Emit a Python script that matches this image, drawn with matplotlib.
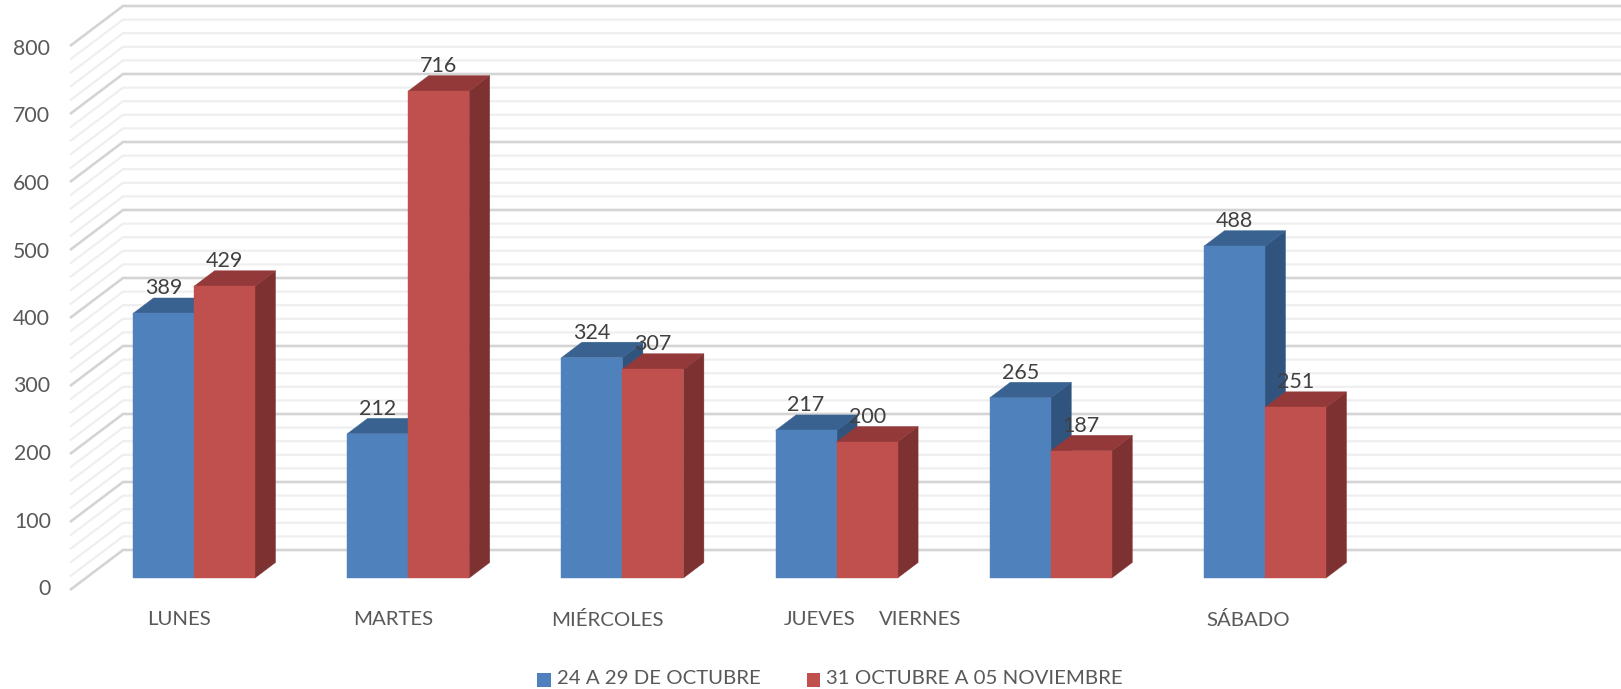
import matplotlib
matplotlib.use("Agg")
import matplotlib.pyplot as plt
from matplotlib.patches import Polygon, Rectangle
from matplotlib.legend_handler import HandlerPatch

dias = ["LUNES", "MARTES", "MIÉRCOLES", "JUEVES", "VIERNES", "SÁBADO"]
serie_a = [389, 212, 324, 217, 265, 488]
serie_b = [429, 716, 307, 200, 187, 251]
nombre_a = "24 A 29 DE OCTUBRE"
nombre_b = "31 OCTUBRE A 05 NOVIEMBRE"
ticks_y = [0, 100, 200, 300, 400, 500, 600, 700, 800]
ticks_menores = list(range(0, 801, 20))

W, H = 1621, 689
plt.rcParams["font.family"] = ["Lato", "DejaVu Sans"]
fig = plt.figure(figsize=(W / 100, H / 100), dpi=100, facecolor="white")
ax = fig.add_axes([0, 0, 1, 1])

# escalas: una unidad x = separacion entre categorias; pixeles -> datos
PX = 214.2          # px por categoria
PY = 0.68           # px por unidad de valor
X0, Y0 = 194, 578   # px del origen (categoria 0, valor 0) en el plano frontal
ax.set_xlim((0 - X0) / PX, (W - X0) / PX)
ax.set_ylim(-(H - Y0) / PY, Y0 / PY)
ax.axis("off")

def dx(px):
    return px / PX
def dy(px):
    return px / PY

# paredes
wall_l = dx(70 - X0)
wall_b = dx(123 - X0)
right = dx(W - X0)
off_back = dy(Y0 - 550)
off_front = dy(Y0 - 590)
for v in ticks_menores:
    major = v in ticks_y
    col = "#d4d4d4" if major else "#efefef"
    lw = 1.9 if major else 1.6
    ax.plot([wall_l, wall_b, right], [v + off_front, v + off_back, v + off_back],
            color=col, lw=lw, zorder=2 if major else 1, solid_joinstyle="miter",
            solid_capstyle="butt")

# barras 3D
W_BAR = dx(61)
DX, DY = dx(20.5), dy(15.5)
EST_A = ("#4f81bd", "#3a6291", "#31547f")
EST_B = ("#c0504d", "#93393a", "#7d3130")

def barra(x, v, est):
    f, t, s = est
    ax.add_patch(Polygon([(x + W_BAR, 0), (x + W_BAR + DX, DY), (x + W_BAR + DX, v + DY), (x + W_BAR, v)],
                         closed=True, fc=s, ec=s, lw=0.3, zorder=5))
    ax.add_patch(Polygon([(x, v), (x + DX, v + DY), (x + W_BAR + DX, v + DY), (x + W_BAR, v)],
                         closed=True, fc=t, ec=t, lw=0.3, zorder=5))
    ax.add_patch(Rectangle((x, 0), W_BAR, v, fc=f, ec=f, lw=0.3, zorder=5))

ETQ = "#404040"
for i, (a, b) in enumerate(zip(serie_a, serie_b)):
    barra(i - W_BAR, a, EST_A)
    barra(i, b, EST_B)
for i, (a, b) in enumerate(zip(serie_a, serie_b)):
    ax.text(i - W_BAR / 2, a + dy(27), str(a), ha="center", va="center_baseline",
            fontsize=15.5, color=ETQ, zorder=10)
    ax.text(i + W_BAR / 2, b + dy(27), str(b), ha="center", va="center_baseline",
            fontsize=15.5, color=ETQ, zorder=10)

# eje y (paso de etiquetas ligeramente menor que el de las lineas)
for v in ticks_y:
    px_r = 51 if v <= 200 else 50
    ax.text(dx(px_r - X0), v * 0.675 / PY + dy(Y0 - 587), str(v), ha="right",
            va="center_baseline", fontsize=15.3, color="#595959")

# etiquetas de categoria (desplazadas como en el original)
pos_cat = [179, 393, 607, 820, 920, 1248]
for nombre, px in zip(dias, pos_cat):
    ax.text(dx(px - X0), dy(Y0 - 618), nombre, ha="center", va="center_baseline",
            fontsize=14.7, color="#595959")

# leyenda
def cuadro(legend, orig_handle, xdescent, ydescent, width, height, fontsize):
    return Rectangle((-xdescent, -ydescent - 2.5), width, height)

h = [Rectangle((0, 0), 1, 1, fc=EST_A[0]), Rectangle((0, 0), 1, 1, fc=EST_B[0])]
fig.legend(h, [nombre_a, nombre_b], loc="center", bbox_to_anchor=(830 / W, 1 - 678.5 / H),
           ncol=2, frameon=False, fontsize=14.7, labelcolor="#595959", handlelength=0.65,
           handleheight=0.65, handletextpad=0.3, columnspacing=2.25, borderpad=0,
           handler_map={Rectangle: HandlerPatch(patch_func=cuadro)})

fig.savefig("out.png", dpi=100)
